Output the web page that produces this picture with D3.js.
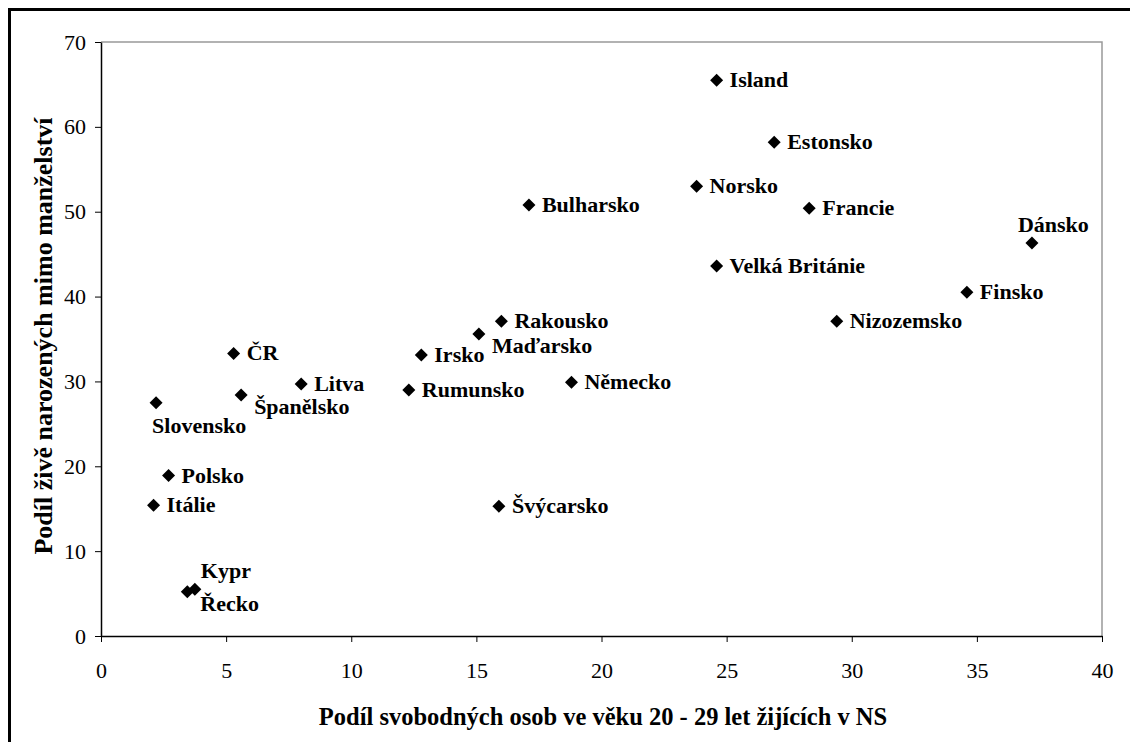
<!DOCTYPE html>
<html>
<head>
<meta charset="UTF-8">
<title>Podíl živě narozených mimo manželství</title>
<script src="https://d3js.org/d3.v7.min.js"></script>
<style>
  body {margin:0; background:#fff;}
  text {font-family: "Liberation Serif", "Times New Roman", serif; fill:#000;}
  .tick text {font-size:22px;}
  .lbl {font-size:22px; font-weight:bold;}
  .title {font-size:24.5px; font-weight:bold;}
  .ytitle {font-size:26px; font-weight:bold;}
</style>
</head>
<body>
<div id="chart"></div>
<script>
// countries, x = share of single people aged 20-29 in cohabitation, y = share of births outside marriage
var countries = ["Island","Estonsko","Norsko","Francie","Bulharsko","Dánsko","Finsko","Velká Británie",
                 "Nizozemsko","Rakousko","Maďarsko","Irsko","Rumunsko","Německo","Švýcarsko",
                 "ČR","Litva","Španělsko","Slovensko","Polsko","Itálie","Kypr","Řecko"];
var xValues = [24.6, 26.9, 23.8, 28.3, 17.1, 37.2, 34.6, 24.6,
               29.4, 16.0, 15.1, 12.8, 12.3, 18.8, 15.9,
               5.3, 8.0, 5.6, 2.2, 2.7, 2.1, 3.75, 3.45];
var yValues = [65.5, 58.2, 53.0, 50.4, 50.8, 46.3, 40.5, 43.6,
               37.1, 37.1, 35.6, 33.1, 29.0, 29.9, 15.3,
               33.3, 29.7, 28.4, 27.5, 18.9, 15.4, 5.5, 5.2];
// label placement relative to marker: "r" right, "b" below, "t" above, "br" below right, "tr" above right
var labelPos = ["r","r","r","r","r","t","r","r",
                "r","r","br","r","r","r","r",
                "r","r","br","b","r","r","tr","br"];
var xTicks = [0,5,10,15,20,25,30,35,40];
var yTicks = [0,10,20,30,40,50,60,70];

var W = 1130, H = 742;
var svg = d3.select("#chart").append("svg").attr("width", W).attr("height", H);

// outer frame (runs off the right and bottom of the picture)
svg.append("rect").attr("x", 9.5).attr("y", 9.5).attr("width", W + 20).attr("height", H + 20)
  .attr("fill", "none").attr("stroke", "#000").attr("stroke-width", 3);

var pLeft = 101, pRight = 1102, pTop = 42, pBottom = 636;
var x = d3.scaleLinear().domain([0, 40]).range([pLeft, pRight]);
var y = d3.scaleLinear().domain([0, 70]).range([pBottom, pTop]);

// plot area top/right border in grey
svg.append("path").attr("d", "M" + pLeft + "," + pTop + "H" + pRight + "V" + pBottom)
  .attr("fill", "none").attr("stroke", "#999").attr("stroke-width", 1.5);

var xAxis = svg.append("g").attr("transform", "translate(0," + pBottom + ")")
  .call(d3.axisBottom(x).tickValues(xTicks).tickSize(6).tickSizeOuter(0).tickPadding(20));
var yAxis = svg.append("g").attr("transform", "translate(" + pLeft + ",0)")
  .call(d3.axisLeft(y).tickValues(yTicks).tickSize(6).tickSizeOuter(0).tickPadding(9));
svg.selectAll(".domain").attr("stroke", "#000").attr("stroke-width", 1.5);
svg.selectAll(".tick line").attr("stroke", "#000");
svg.selectAll(".tick text").attr("font-family", null).attr("font-size", null);
xAxis.selectAll(".tick text").attr("dy", "0.71em");

// markers
var pts = countries.map(function(c, i) {return {name: c, x: xValues[i], y: yValues[i], pos: labelPos[i]};});
svg.append("g").selectAll("path").data(pts).enter().append("path")
  .attr("transform", function(d) {return "translate(" + x(d.x) + "," + y(d.y) + ")";})
  .attr("d", "M0,-6.5L6.5,0L0,6.5L-6.5,0Z")
  .attr("fill", "#000");

var dx = {r: 13, b: -4, t: -14, br: 13, tr: 6};
var dy = {r: 7, b: 30, t: -11, br: 19, tr: -11};
svg.append("g").selectAll("text").data(pts).enter().append("text")
  .attr("class", "lbl")
  .attr("x", function(d) {return x(d.x) + dx[d.pos];})
  .attr("y", function(d) {return y(d.y) + dy[d.pos];})
  .text(function(d) {return d.name;});

// axis titles
svg.append("text").attr("class", "title").attr("text-anchor", "middle")
  .attr("x", 603).attr("y", 725)
  .text("Podíl svobodných osob ve věku 20 - 29 let žijících v NS");
svg.append("text").attr("class", "ytitle").attr("text-anchor", "middle")
  .attr("transform", "translate(52,336) rotate(-90)")
  .text("Podíl živě narozených mimo manželství");
</script>
</body>
</html>
